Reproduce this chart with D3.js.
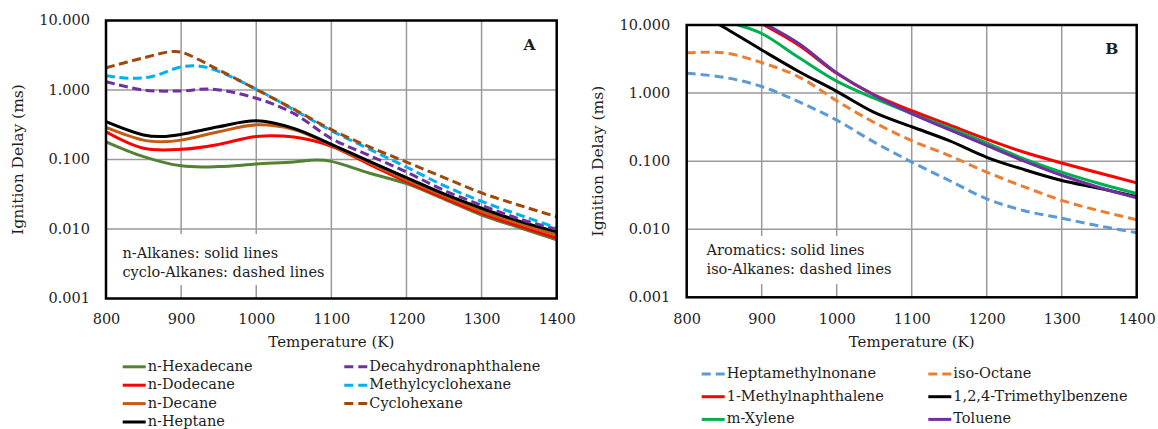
<!DOCTYPE html>
<html><head><meta charset="utf-8">
<script src="https://cdn.jsdelivr.net/npm/d3@7/dist/d3.min.js"></script>
<style>
body{margin:0;background:#fff}
svg{display:block}
text{font-family:"DejaVu Serif",serif;fill:#1e1e1e}
</style>
</head><body>
<svg id="c" width="1158" height="429"></svg>
<script>
// ---------- data ----------
const tempTicks = [800, 900, 1000, 1100, 1200, 1300, 1400];
const delayTicks = [0.001, 0.01, 0.1, 1, 10];
const delayTickLabels = ["0.001", "0.010", "0.100", "1.000", "10.000"];

// Panel A (n-alkanes solid, cyclo-alkanes dashed)  [T (K), delay (ms)]
const nHexadecane = [[800,0.18],[850,0.11],[900,0.081],[950,0.079],[1000,0.086],[1050,0.092],[1080,0.098],[1100,0.094],[1150,0.064],[1200,0.045],[1250,0.027],[1300,0.0159],[1350,0.0105],[1400,0.0070]];
const nDodecane = [[800,0.25],[850,0.145],[900,0.14],[950,0.165],[1000,0.215],[1050,0.21],[1100,0.155],[1150,0.086],[1200,0.048],[1250,0.028],[1300,0.0168],[1350,0.011],[1400,0.0074]];
const nDecane = [[800,0.29],[850,0.19],[875,0.18],[900,0.19],[950,0.25],[1000,0.315],[1050,0.27],[1100,0.16],[1150,0.090],[1200,0.051],[1250,0.030],[1300,0.018],[1350,0.012],[1400,0.0082]];
const nHeptane = [[800,0.35],[850,0.225],[875,0.214],[900,0.23],[950,0.295],[1000,0.36],[1050,0.28],[1100,0.165],[1150,0.095],[1200,0.055],[1250,0.032],[1300,0.0199],[1350,0.013],[1400,0.0091]];
const decalin = [[800,1.32],[850,1.0],[900,0.97],[940,1.03],[1000,0.76],[1050,0.46],[1100,0.20],[1150,0.115],[1200,0.066],[1250,0.036],[1300,0.022],[1350,0.014],[1400,0.0099]];
const methylcyclohexane = [[800,1.6],[830,1.48],[860,1.55],[900,2.15],[925,2.2],[950,1.85],[1000,1.03],[1050,0.52],[1100,0.26],[1150,0.142],[1200,0.078],[1250,0.042],[1300,0.025],[1350,0.016],[1400,0.0104]];
const cyclohexane = [[800,2.09],[850,2.9],[885,3.55],[900,3.5],[950,1.95],[1000,1.02],[1050,0.53],[1100,0.27],[1150,0.153],[1200,0.092],[1250,0.055],[1300,0.033],[1350,0.022],[1400,0.015]];

// Panel B (aromatics solid, iso-alkanes dashed)
const heptamethylnonane = [[800,1.95],[850,1.7],[900,1.25],[950,0.74],[1000,0.40],[1050,0.19],[1100,0.097],[1150,0.052],[1200,0.028],[1250,0.0187],[1300,0.0145],[1350,0.0112],[1400,0.0089]];
const isoOctane = [[800,3.9],[850,3.9],[900,2.8],[950,1.72],[1000,0.77],[1050,0.37],[1100,0.20],[1150,0.121],[1200,0.069],[1250,0.042],[1300,0.0265],[1350,0.0187],[1400,0.0138]];
const methylnaphthalene = [[903,10],[950,5.0],[1000,1.95],[1050,0.94],[1100,0.55],[1150,0.34],[1200,0.21],[1250,0.135],[1300,0.094],[1350,0.067],[1400,0.048]];
const trimethylbenzene = [[844,10],[850,9.2],[900,4.3],[950,2.06],[1000,1.06],[1050,0.52],[1100,0.32],[1150,0.20],[1200,0.114],[1250,0.075],[1300,0.052],[1350,0.040],[1400,0.030]];
const mXylene = [[868,10],[900,7.5],[950,3.3],[1000,1.5],[1050,0.84],[1100,0.50],[1150,0.31],[1200,0.185],[1250,0.108],[1300,0.069],[1350,0.047],[1400,0.0335]];
const toluene = [[907,10],[950,5.3],[1000,1.98],[1050,0.93],[1100,0.50],[1150,0.29],[1200,0.17],[1250,0.10],[1300,0.062],[1350,0.041],[1400,0.029]];

const seriesA = [
  {name:"n-Hexadecane", data:nHexadecane, color:"#548235", dash:false},
  {name:"n-Dodecane", data:nDodecane, color:"#FF0000", dash:false},
  {name:"n-Decane", data:nDecane, color:"#C55A11", dash:false},
  {name:"n-Heptane", data:nHeptane, color:"#000000", dash:false},
  {name:"Decahydronaphthalene", data:decalin, color:"#7030A0", dash:true},
  {name:"Methylcyclohexane", data:methylcyclohexane, color:"#00B0F0", dash:true},
  {name:"Cyclohexane", data:cyclohexane, color:"#9E480E", dash:true}
];
const seriesB = [
  {name:"Heptamethylnonane", data:heptamethylnonane, color:"#5B9BD5", dash:true},
  {name:"iso-Octane", data:isoOctane, color:"#ED7D31", dash:true},
  {name:"1-Methylnaphthalene", data:methylnaphthalene, color:"#FF0000", dash:false},
  {name:"1,2,4-Trimethylbenzene", data:trimethylbenzene, color:"#000000", dash:false},
  {name:"m-Xylene", data:mXylene, color:"#00B050", dash:false},
  {name:"Toluene", data:toluene, color:"#7030A0", dash:false}
];

// ---------- drawing ----------
const svg = d3.select("#c");
const FS = 14.5;

function panel(cfg){
  const x = d3.scaleLinear().domain([800,1400]).range([cfg.left, cfg.right]);
  const y = d3.scaleLog().domain([0.001,10]).range([cfg.bottom, cfg.top]);
  const g = svg.append("g");
  const clipId = "clip" + cfg.id;
  svg.append("defs").append("clipPath").attr("id", clipId)
    .append("rect").attr("x", cfg.left).attr("y", cfg.top)
    .attr("width", cfg.right-cfg.left).attr("height", cfg.bottom-cfg.top);

  // grid
  g.append("g").selectAll("line").data(tempTicks.slice(1,-1)).join("line")
    .attr("x1", d=>x(d)).attr("x2", d=>x(d)).attr("y1", cfg.top).attr("y2", cfg.bottom)
    .attr("stroke","#9a9a9a").attr("stroke-width",1.5);
  g.append("g").selectAll("line").data(delayTicks.slice(1,-1)).join("line")
    .attr("y1", d=>y(d)).attr("y2", d=>y(d)).attr("x1", cfg.left).attr("x2", cfg.right)
    .attr("stroke","#9a9a9a").attr("stroke-width",1.5);

  // annotation box
  g.append("rect").attr("x", cfg.box[0]).attr("y", cfg.box[1]).attr("width", cfg.box[2]).attr("height", cfg.box[3]).attr("fill","#fff");
  cfg.note.forEach((t,i)=>{
    g.append("text").attr("x", cfg.noteX).attr("y", cfg.noteY + i*19.4)
      .attr("dominant-baseline","middle").attr("font-size",FS).text(t);
  });

  // curves
  const line = d3.line().x(d=>x(d[0])).y(d=>y(d[1])).curve(d3.curveCatmullRom.alpha(0.5));
  const cg = g.append("g").attr("clip-path", `url(#${clipId})`);
  cfg.series.forEach(s=>{
    cg.append("path").attr("d", line(s.data)).attr("fill","none")
      .attr("stroke", s.color).attr("stroke-width", 3)
      .attr("stroke-dasharray", s.dash ? cfg.dashPattern : null)
      .attr("stroke-linejoin","round");
  });

  // frame
  g.append("rect").attr("x", cfg.left).attr("y", cfg.top)
    .attr("width", cfg.right-cfg.left).attr("height", cfg.bottom-cfg.top)
    .attr("fill","none").attr("stroke","#000").attr("stroke-width",2.5);

  // axes (labels only)
  const xAxis = d3.axisBottom(x).tickValues(tempTicks).tickSize(0).tickPadding(0).tickFormat(d3.format("d"));
  const xa = g.append("g").attr("transform", `translate(0,${cfg.xLabelY})`).call(xAxis);
  xa.select(".domain").remove();
  xa.selectAll("text").attr("font-size",FS).attr("font-family","DejaVu Serif").attr("fill","#1e1e1e")
    .attr("dy",null).attr("dominant-baseline","middle");

  const yAxis = d3.axisLeft(y).tickValues(delayTicks).tickSize(0).tickPadding(0)
    .tickFormat(d=>delayTickLabels[delayTicks.indexOf(d)]);
  const ya = g.append("g").attr("transform", `translate(${cfg.left - cfg.yLabelGap},0)`).call(yAxis);
  ya.select(".domain").remove();
  ya.selectAll("text").attr("font-size",FS).attr("font-family","DejaVu Serif").attr("fill","#1e1e1e")
    .attr("dy",null).attr("dominant-baseline","middle");

  // titles
  g.append("text").attr("x", (cfg.left+cfg.right)/2).attr("y", cfg.xTitleY)
    .attr("text-anchor","middle").attr("dominant-baseline","middle").attr("font-size",15)
    .text("Temperature  (K)");
  g.append("text").attr("transform", `translate(${cfg.yTitleX},${(cfg.top+cfg.bottom)/2}) rotate(-90)`)
    .attr("text-anchor","middle").attr("dominant-baseline","middle").attr("font-size",15.5)
    .text("Ignition Delay  (ms)");
  g.append("text").attr("x", cfg.tag[1]).attr("y", cfg.tag[2]).attr("text-anchor","middle")
    .attr("dominant-baseline","middle").attr("font-size",15.5).attr("font-weight","bold").text(cfg.tag[0]);

  // legend
  cfg.legend.forEach(item=>{
    const s = cfg.series.find(d=>d.name===item.name);
    g.append("line").attr("x1", item.lx).attr("x2", item.lx+23).attr("y1", item.y).attr("y2", item.y)
      .attr("stroke", s.color).attr("stroke-width",3)
      .attr("stroke-dasharray", s.dash ? "9,5" : null);
    g.append("text").attr("x", item.lx+25).attr("y", item.y).attr("dominant-baseline","middle")
      .attr("font-size",FS).text(s.name);
  });
}

function legendLayout(cols, x0s, y0, dy){
  const out = [];
  cols.forEach((col,ci)=>col.forEach((n,ri)=>out.push({name:n, lx:x0s[ci], y:y0+ri*dy})));
  return out;
}

panel({
  id:"A", left:106, right:556.7, top:20.5, bottom:298.5,
  series: seriesA, dashPattern:"9,4.5",
  xLabelY:320, xTitleY:343, yLabelGap:16, yTitleX:19,
  box:[116,234,212,51], note:["n-Alkanes: solid lines","cyclo-Alkanes: dashed lines"], noteX:122.5, noteY:253.5,
  tag:["A",529.5,46],
  legend: legendLayout([["n-Hexadecane","n-Dodecane","n-Decane","n-Heptane"],["Decahydronaphthalene","Methylcyclohexane","Cyclohexane"]],[122.7,344.3],366.8,18.4)
});
panel({
  id:"B", left:686.7, right:1136.7, top:25, bottom:297.3,
  series: seriesB, dashPattern:"9,5",
  xLabelY:320, xTitleY:343, yLabelGap:16.5, yTitleX:599,
  box:[700,236,200,48], note:["Aromatics: solid lines","iso-Alkanes: dashed lines"], noteX:706.5, noteY:251,
  tag:["B",1111.7,50],
  legend: legendLayout([["Heptamethylnonane","1-Methylnaphthalene","m-Xylene"],["iso-Octane","1,2,4-Trimethylbenzene","Toluene"]],[701.7,928.3],374,22.7)
});
</script>
</body></html>
